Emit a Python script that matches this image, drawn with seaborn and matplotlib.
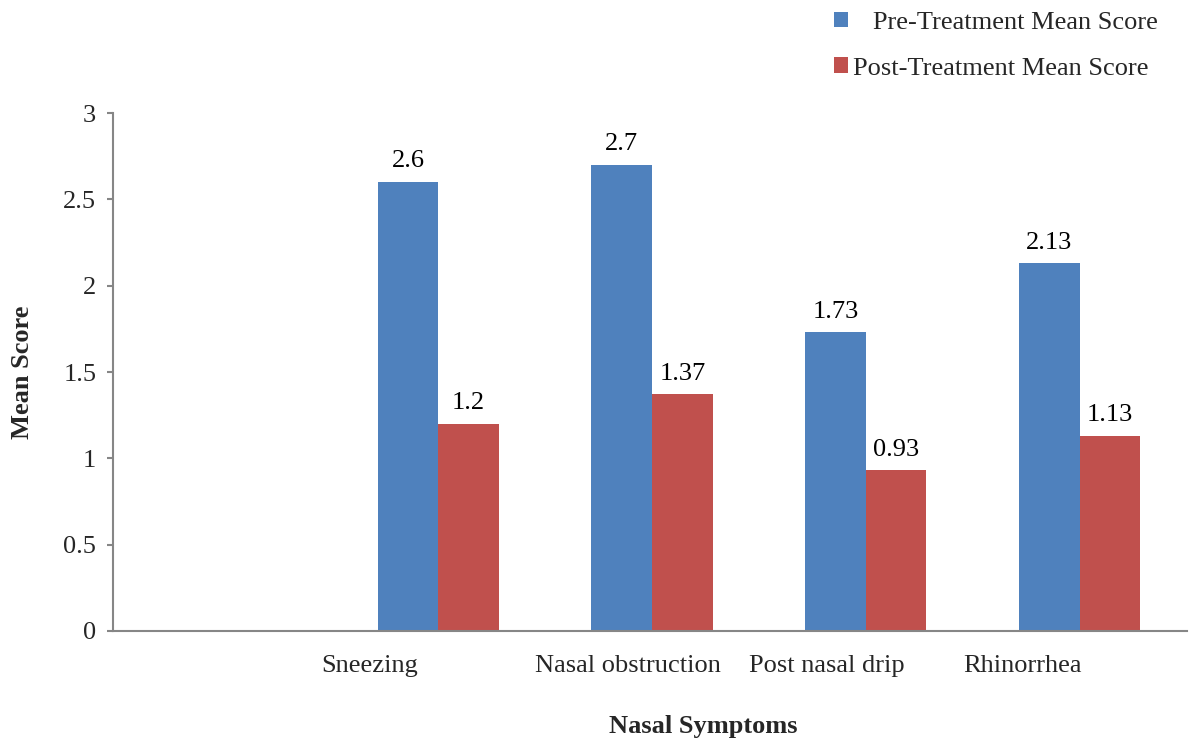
import matplotlib
matplotlib.use("Agg")
import matplotlib.pyplot as plt
from matplotlib.patches import Patch
import seaborn as sns
import pandas as pd

# Mean symptom scores before and after treatment
symptoms = ["Sneezing", "Nasal obstruction", "Post nasal drip", "Rhinorrhea"]
pre_scores = [2.6, 2.7, 1.73, 2.13]
post_scores = [1.2, 1.37, 0.93, 1.13]
series_names = ["Pre-Treatment Mean Score", "Post-Treatment Mean Score"]
y_ticks = [0, 0.5, 1, 1.5, 2, 2.5, 3]

# First slot on the axis is left empty
category_order = [""] + symptoms

df = pd.DataFrame({
    "Symptom": symptoms * 2,
    "Score": pre_scores + post_scores,
    "Series": [series_names[0]] * len(symptoms) + [series_names[1]] * len(symptoms),
})

sns.set_style("white")
plt.rcParams["font.family"] = ["Liberation Serif", "DejaVu Serif"]

FS = 19
blue = "#4F81BD"
red = "#C0504D"
axis_grey = "#868686"

fig = plt.figure(figsize=(11.89, 7.42), dpi=100)
ax = fig.add_axes([0.095, 0.1496, 0.903, 0.698])

sns.barplot(data=df, x="Symptom", y="Score", hue="Series", order=category_order,
            hue_order=series_names, palette=[blue, red], width=0.567,
            saturation=1, errorbar=None, legend=False, ax=ax)

for container in ax.containers:
    for bar in container:
        bar.set_edgecolor("none")
    ax.bar_label(container, labels=[f"{v:g}" for v in container.datavalues],
                 padding=7, fontsize=FS, color="black")

ax.set_xlim(-0.521, len(category_order) - 0.5)
ax.set_ylim(0, 3)
ax.set_yticks(y_ticks)
ax.set_yticklabels([f"{t:g}" for t in y_ticks], fontsize=FS)
ax.tick_params(axis="y", which="both", left=True, length=4, width=1.5,
               color=axis_grey, pad=8)
ax.tick_params(axis="x", bottom=False, labelbottom=False)

# Category names set just left of each category slot
for i, name in enumerate(category_order):
    if name:
        ax.text(i - 0.545, -0.14, name, ha="left", va="top", fontsize=FS)

for side in ["top", "right"]:
    ax.spines[side].set_visible(False)
for side in ["left", "bottom"]:
    ax.spines[side].set_color(axis_grey)
    ax.spines[side].set_linewidth(1.5)

ax.set_xlabel("")
ax.set_ylabel("Mean Score", fontsize=FS, fontweight="bold")
ax.yaxis.set_label_coords(-0.0735, 0.5)
fig.text(703 / 1189, 1 - 726 / 742, "Nasal Symptoms", ha="center", va="center",
         fontsize=FS, fontweight="bold")

handles = [Patch(facecolor=blue, edgecolor="none"), Patch(facecolor=red, edgecolor="none")]
labels = ["   " + series_names[0], series_names[1]]
fig.legend(handles, labels, loc="upper left", bbox_to_anchor=(834 / 1189, 0.984),
           frameon=False, fontsize=FS, handlelength=0.53, handleheight=0.53,
           handletextpad=0.19, labelspacing=0.89, borderpad=0, borderaxespad=0)

fig.savefig("out.png", dpi=100, facecolor="white")
